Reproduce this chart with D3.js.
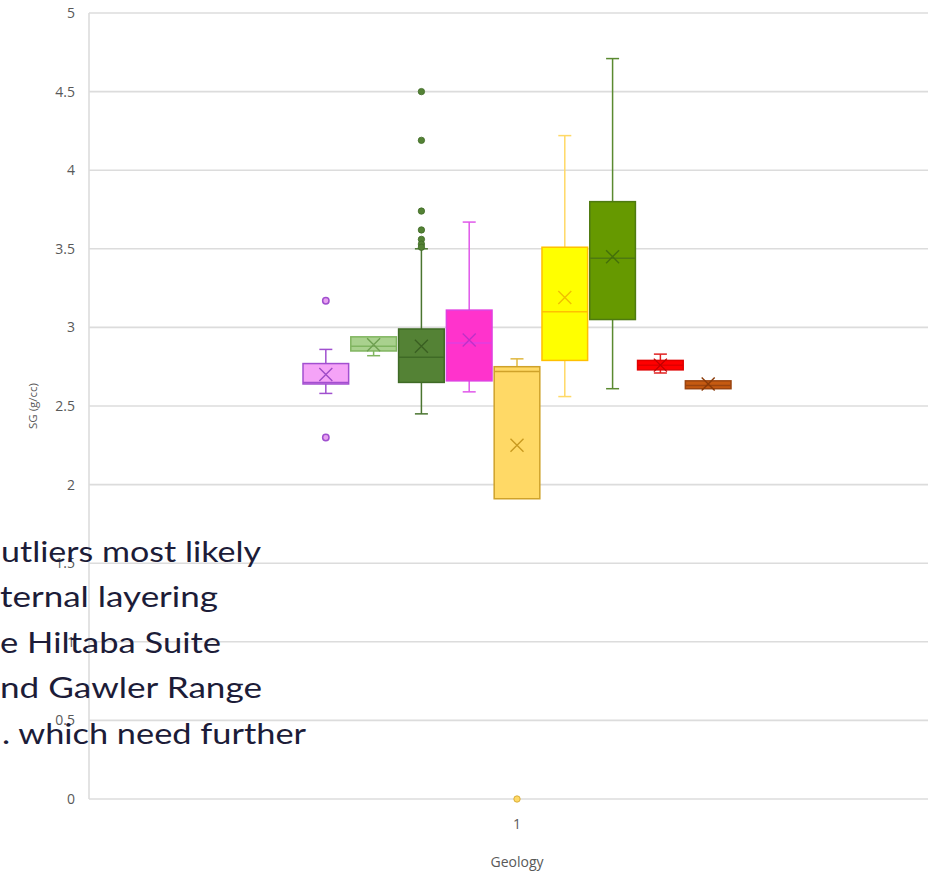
<!DOCTYPE html>
<html>
<head>
<meta charset="utf-8">
<script src="https://cdn.jsdelivr.net/npm/d3@7"></script>
<style>
  html, body { margin: 0; padding: 0; background: #ffffff; overflow: hidden; }
  svg { display: block; }
</style>
</head>
<body>
<svg id="chart" width="928" height="872"></svg>
<script>
// Specific gravity by geology unit: box & whisker summary per unit
const categories = ["1"];
const yTicks = [0, 0.5, 1, 1.5, 2, 2.5, 3, 3.5, 4, 4.5, 5];

const whiskerLow  = [2.58, 2.82, 2.45, 2.59, 1.91, 2.56, 2.61, 2.71, 2.61];
const quartile1   = [2.64, 2.85, 2.65, 2.66, 1.91, 2.79, 3.05, 2.73, 2.61];
const medians     = [2.65, 2.88, 2.81, 2.90, 2.72, 3.10, 3.44, 2.76, 2.63];
const quartile3   = [2.77, 2.94, 2.99, 3.11, 2.75, 3.51, 3.80, 2.79, 2.66];
const whiskerHigh = [2.86, 2.94, 3.50, 3.67, 2.80, 4.22, 4.71, 2.83, 2.66];
const means       = [2.70, 2.89, 2.88, 2.92, 2.25, 3.19, 3.45, 2.76, 2.64];
const outliers    = [[3.17, 2.30], [], [4.50, 4.19, 3.74, 3.62, 3.56, 3.53, 3.51], [], [0], [], [], [], []];

const noteLines = [
  "utliers most likely",
  "ternal layering",
  "e Hiltaba Suite",
  "nd Gawler Range",
  ". which need further"
];

// Per-series styling
const fills    = ["#f5a3f7", "#a9d18e", "#548235", "#ff33cc", "#ffd966", "#ffff00", "#669900", "#ff0000", "#c55a11"];
const strokes  = ["#a24fd0", "#80b560", "#3f6a26", "#e03fe0", "#cfa22a", "#ffc000", "#4e7a10", "#e00000", "#9b4510"];
const whiskers = ["#a050cf", "#80b560", "#4a7530", "#e058ea", "#e0b840", "#ffd966", "#5a8a30", "#e02020", "#9b4510"];
const marks    = ["#9e4cc8", "#6e9f50", "#3a5f22", "#c030c8", "#c99a20", "#f0c000", "#44700a", "#c00000", "#8a3a08"];

const svg = d3.select("#chart");
const margin = { left: 89, top: 13, bottom: 799, right: 945 };

const x = d3.scaleBand().domain(categories).range([margin.left, margin.right]);
const y = d3.scaleLinear().domain([0, 5]).range([margin.bottom, margin.top]);

const seriesIdx = d3.range(medians.length);
const inner = d3.scaleBand()
  .domain(seriesIdx)
  .range([x("1") + x.bandwidth() * 0.25, x("1") + x.bandwidth() * 0.75])
  .paddingInner(0.045);

// Horizontal gridlines
svg.append("g")
  .selectAll("line")
  .data(yTicks)
  .join("line")
  .attr("x1", margin.left)
  .attr("x2", 928)
  .attr("y1", d => y(d))
  .attr("y2", d => y(d))
  .attr("stroke", "#dcdcdc")
  .attr("stroke-width", 1.6);

// Left axis line
svg.append("line")
  .attr("x1", margin.left).attr("x2", margin.left)
  .attr("y1", y(5)).attr("y2", y(0))
  .attr("stroke", "#dcdcdc").attr("stroke-width", 1.6);

// Y axis tick labels
const yAxis = d3.axisLeft(y).tickValues(yTicks).tickSize(0).tickPadding(14).tickFormat(d3.format("~g"));
const gy = svg.append("g").attr("transform", `translate(${margin.left},0)`).call(yAxis);
gy.select(".domain").remove();
gy.selectAll("text")
  .attr("fill", "#595959")
  .style("font-family", "'Open Sans', sans-serif")
  .style("font-size", "14px");

// X axis tick labels
const xAxis = d3.axisBottom(x).tickSize(0).tickPadding(20);
const gx = svg.append("g").attr("transform", `translate(0,${margin.bottom})`).call(xAxis);
gx.select(".domain").remove();
gx.selectAll("text")
  .attr("fill", "#595959")
  .style("font-family", "'Open Sans', sans-serif")
  .style("font-size", "14px");

// Axis titles
svg.append("text")
  .attr("transform", `translate(37,${(y(0) + y(5)) / 2}) rotate(-90)`)
  .attr("text-anchor", "middle")
  .attr("fill", "#595959")
  .style("font-family", "'Open Sans', sans-serif")
  .style("font-size", "11.5px")
  .text("SG (g/cc)");

svg.append("text")
  .attr("x", x("1") + x.bandwidth() / 2)
  .attr("y", 867)
  .attr("text-anchor", "middle")
  .attr("fill", "#595959")
  .style("font-family", "'Open Sans', sans-serif")
  .style("font-size", "14px")
  .text("Geology");

// Boxes
const boxes = svg.append("g")
  .selectAll("g")
  .data(seriesIdx)
  .join("g");

const bw = inner.bandwidth();
const cx = i => inner(i) + bw / 2;
const capW = 13;

// Whisker stems
boxes.append("line")
  .attr("x1", cx).attr("x2", cx)
  .attr("y1", i => y(whiskerHigh[i])).attr("y2", i => y(quartile3[i]))
  .attr("stroke", i => whiskers[i]).attr("stroke-width", 1.5);
boxes.append("line")
  .attr("x1", cx).attr("x2", cx)
  .attr("y1", i => y(quartile1[i])).attr("y2", i => y(whiskerLow[i]))
  .attr("stroke", i => whiskers[i]).attr("stroke-width", 1.5);

// Whisker caps
boxes.filter(i => whiskerHigh[i] > quartile3[i]).append("line")
  .attr("x1", i => cx(i) - capW / 2).attr("x2", i => cx(i) + capW / 2)
  .attr("y1", i => y(whiskerHigh[i])).attr("y2", i => y(whiskerHigh[i]))
  .attr("stroke", i => whiskers[i]).attr("stroke-width", 1.5);
boxes.filter(i => whiskerLow[i] < quartile1[i]).append("line")
  .attr("x1", i => cx(i) - capW / 2).attr("x2", i => cx(i) + capW / 2)
  .attr("y1", i => y(whiskerLow[i])).attr("y2", i => y(whiskerLow[i]))
  .attr("stroke", i => whiskers[i]).attr("stroke-width", 1.5);

// Interquartile box
boxes.append("rect")
  .attr("x", i => inner(i))
  .attr("width", bw)
  .attr("y", i => y(quartile3[i]))
  .attr("height", i => y(quartile1[i]) - y(quartile3[i]))
  .attr("fill", i => fills[i])
  .attr("stroke", i => strokes[i])
  .attr("stroke-width", 1.5);

// Median line
boxes.append("line")
  .attr("x1", i => inner(i)).attr("x2", i => inner(i) + bw)
  .attr("y1", i => y(medians[i])).attr("y2", i => y(medians[i]))
  .attr("stroke", i => strokes[i]).attr("stroke-width", 1.5);

// Mean marker (X)
const xs = 6.5;
boxes.append("path")
  .attr("d", i => {
    const px = cx(i), py = y(means[i]);
    return `M${px - xs},${py - xs}L${px + xs},${py + xs}M${px - xs},${py + xs}L${px + xs},${py - xs}`;
  })
  .attr("stroke", i => marks[i])
  .attr("stroke-width", 1.4)
  .attr("fill", "none");

// Outlier points
boxes.each(function (i) {
  d3.select(this).selectAll("circle")
    .data(outliers[i])
    .join("circle")
    .attr("cx", cx(i))
    .attr("cy", d => y(d))
    .attr("r", 3.2)
    .attr("fill", i === 0 ? "#e8a0f0" : fills[i])
    .attr("stroke", i === 0 ? "#a050cf" : strokes[i])
    .attr("stroke-width", i === 0 ? 1.5 : 0.8);
});

// Overlaid note text
const noteStart = [1, 0, 0, 0, 2];
const noteEnd = [261, 218, 221, 262, 306];
const noteBase = [562, 607, 653, 698, 744];
svg.append("g")
  .selectAll("text")
  .data(noteLines)
  .join("text")
  .attr("x", (d, i) => noteStart[i])
  .attr("y", (d, i) => noteBase[i])
  .attr("textLength", (d, i) => noteEnd[i] - noteStart[i])
  .attr("lengthAdjust", "spacingAndGlyphs")
  .attr("fill", "#1c1c38")
  .style("font-family", "Lato, 'Open Sans', sans-serif")
  .style("font-size", "29px")
  .text(d => d);
</script>
</body>
</html>
